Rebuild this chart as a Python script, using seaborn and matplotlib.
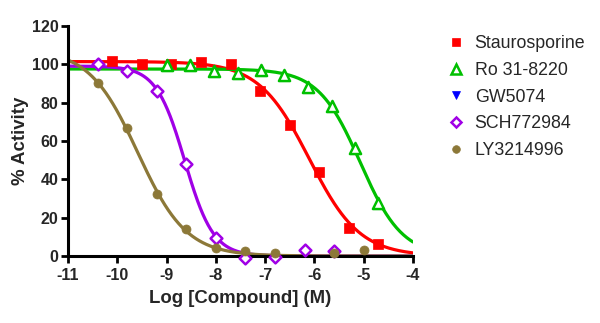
import numpy as np
import pandas as pd
import matplotlib
matplotlib.use("Agg")
import matplotlib.pyplot as plt
from matplotlib.lines import Line2D
import seaborn as sns

# ---- data ----
names = ["Staurosporine", "Ro 31-8220", "GW5074", "SCH772984", "LY3214996"]

x_stauro = [-10.1, -9.5, -8.9, -8.3, -7.7, -7.1, -6.5, -5.9, -5.3, -4.7]
y_stauro = [101.7, 100.2, 100.2, 101.2, 100.2, 86.0, 68.3, 43.8, 14.6, 6.3]

x_ro = [-9.0, -8.52, -8.04, -7.56, -7.09, -6.61, -6.13, -5.65, -5.18, -4.7]
y_ro = [99.6, 99.6, 96.5, 95.5, 97.0, 94.4, 88.2, 78.2, 56.3, 27.6]

x_gw = []
y_gw = []

x_sch = [-10.4, -9.8, -9.2, -8.6, -8.0, -7.4, -6.8, -6.2, -5.6]
y_sch = [100.2, 96.5, 86.0, 48.0, 9.4, -0.8, -0.5, 3.1, 2.6]

x_ly = [-10.4, -9.8, -9.2, -8.6, -8.0, -7.4, -6.8, -5.6, -5.0]
y_ly = [90.2, 66.8, 32.3, 14.1, 4.2, 2.6, 1.6, 1.6, 3.1]

xs = [x_stauro, x_ro, x_gw, x_sch, x_ly]
ys = [y_stauro, y_ro, y_gw, y_sch, y_ly]

colors = ["#FF0000", "#00C000", "#0000FF", "#A000E6", "#8C7838"]
markers = ["s", "^", "v", "D", "o"]
filled = [True, False, True, False, True]
msizes = [6.5, 8, 7, 6, 6.5]

x_ticks = [-11, -10, -9, -8, -7, -6, -5, -4]
y_ticks = [0, 20, 40, 60, 80, 100, 120]


def fit_logistic(x, y):
    """Least-squares logistic fit with bottom = 0 (grid over IC50/slope, linear for top)."""
    x = np.asarray(x, float)
    y = np.asarray(y, float)
    cs = np.arange(-11.5, -3.0, 0.005)
    best = (np.inf, None)
    for h in np.arange(0.3, 4.0, 0.01):
        S = 1.0 / (1.0 + 10 ** ((x[None, :] - cs[:, None]) * h))
        t = (S * y).sum(1) / (S * S).sum(1)
        sse = ((t[:, None] * S - y) ** 2).sum(1)
        i = np.nanargmin(sse)
        if sse[i] < best[0]:
            best = (sse[i], (t[i], cs[i], h))
    return best[1]


sns.set_theme(style="ticks")
plt.rcParams["font.family"] = ["Liberation Sans", "DejaVu Sans"]

fig = plt.figure(figsize=(6.0, 3.23), dpi=100)
ax = fig.add_axes([68 / 600, 67 / 323, 345 / 600, 230 / 323])

xfine = np.linspace(-11, -4, 400)
for x, y, c in zip(xs, ys, colors):
    if len(x) == 0:
        continue
    t, c50, h = fit_logistic(x, y)
    yfit = t / (1 + 10 ** ((xfine - c50) * h))
    sns.lineplot(x=xfine, y=yfit, color=c, linewidth=2.3, ax=ax, legend=False)

for x, y, c, m, f, ms in zip(xs, ys, colors, markers, filled, msizes):
    if len(x) == 0:
        continue
    df = pd.DataFrame({"x": x, "y": y})
    sns.scatterplot(data=df, x="x", y="y", ax=ax, marker=m, s=ms ** 2,
                    color=(c if f else "white"), edgecolor=c,
                    linewidth=(0.5 if f else 1.8), zorder=5, clip_on=False,
                    legend=False)

ax.set_xlim(-11, -4)
ax.set_ylim(0, 120)
ax.set_xticks(x_ticks)
ax.set_yticks(y_ticks)
ax.set_xticklabels([str(v) for v in x_ticks], fontsize=11.5, fontweight="bold")
ax.set_yticklabels([str(v) for v in y_ticks], fontsize=11.5, fontweight="bold")
ax.set_xlabel("Log [Compound] (M)", fontsize=13.4, fontweight="bold", labelpad=5)
ax.set_ylabel("% Activity", fontsize=13.4, fontweight="bold", labelpad=2)
for s in ["top", "right"]:
    ax.spines[s].set_visible(False)
for s in ["left", "bottom"]:
    ax.spines[s].set_linewidth(2.2)
    ax.spines[s].set_color("black")
    ax.spines[s].set_zorder(4)
ax.tick_params(axis="both", width=2.0, length=5, color="black")
ax.tick_params(axis="x", pad=4)
ax.tick_params(axis="y", pad=2)

handles = []
for n, c, m, f, ms in zip(names, colors, markers, filled, msizes):
    handles.append(Line2D([], [], linestyle="none", marker=m, markersize=ms * 0.85,
                          markerfacecolor=(c if f else "white"), markeredgecolor=c,
                          markeredgewidth=(0.5 if f else 1.8), label=n))
fig.legend(handles=handles, loc="upper left", bbox_to_anchor=(440 / 600, 1 - 28 / 323),
           frameon=False, fontsize=12.8, handlelength=1.0, handletextpad=0.55,
           labelspacing=0.55, borderaxespad=0)

fig.savefig("out.png", dpi=100)
